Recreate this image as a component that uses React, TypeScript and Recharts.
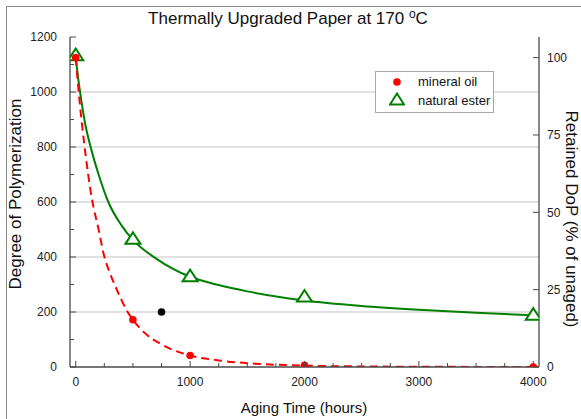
import React from "react";
import {
  ComposedChart,
  Line,
  Scatter,
  XAxis,
  YAxis,
  ReferenceLine,
  Legend,
} from "recharts";

// measured points
const agingHours = [0, 500, 1000, 2000, 4000];
const mineralOilDP = [1125, 172, 42, 6, 0];
const naturalEsterDP = [1130, 462, 326, 252, 186];
const extraHours = [750];
const extraDP = [200];

// fitted curves
const esterFitHours = [0, 20, 40, 80, 140, 200, 285, 400, 500, 700, 1000, 1250, 1500, 2000, 2500, 3000, 3500, 4000];
const esterFitDP = [1130, 1055, 995, 890, 785, 700, 600, 515, 462, 395, 328, 298, 275, 242, 222, 208, 197, 188];
const oilFitHours = [0, 25, 75, 140, 200, 245, 300, 350, 450, 500, 600, 750, 1000, 1250, 1500, 2000, 2500, 3000, 4000];
const oilFitDP = [1125, 1005, 810, 615, 500, 410, 340, 290, 203, 172, 125, 82, 42, 24, 14, 5, 2, 1, 0];

// axes
const xTicks = [0, 250, 500, 750, 1000, 1250, 1500, 1750, 2000, 2250, 2500, 2750, 3000, 3250, 3500, 3750, 4000];
const xLabelTicks = [0, 1000, 2000, 3000, 4000];
const leftTicks = [0, 100, 200, 300, 400, 500, 600, 700, 800, 900, 1000, 1100, 1200];
const leftLabelTicks = [0, 200, 400, 600, 800, 1000, 1200];
const gridLevels = [200, 400, 600, 800, 1000];
const rightTicks = [0, 25, 50, 75, 100];
// invisible anchors so the top / right axes have something to scale
const anchorHours = [0, 4000];
const anchorPct = [0, 100];

const zip = (xs: number[], ys: number[]) => xs.map((h, i) => ({ hours: h, dp: ys[i] }));

const oilPoints = zip(agingHours, mineralOilDP);
const esterPoints = zip(agingHours, naturalEsterDP);
const extraPoints = zip(extraHours, extraDP);
const esterFit = zip(esterFitHours, esterFitDP);
const oilFit = zip(oilFitHours, oilFitDP);
const anchors = zip(anchorHours, anchorPct);

const FONT = "'Liberation Sans', Arial, sans-serif";
const AXIS = "#4a4a4a";
const GREEN = "#008000";
const RED = "#ff0000";

const BottomTick = ({ x, y, payload }: any) => {
  const major = xLabelTicks.includes(payload.value);
  const base = y - 10;
  return (
    <g>
      <line x1={x} x2={x} y1={base} y2={base - (major ? 6 : 4)} stroke={AXIS} />
      {major && (
        <text x={x} y={y} dy="0.71em" textAnchor="middle" fontSize={12} fill="#222" fontFamily={FONT}>
          {payload.value}
        </text>
      )}
    </g>
  );
};

const TopTick = ({ x, y, payload }: any) => {
  const major = xLabelTicks.includes(payload.value);
  return <line x1={x} x2={x} y1={y} y2={y + (major ? 6 : 4)} stroke={AXIS} />;
};

const LeftTick = ({ x, y, payload }: any) => {
  const major = leftLabelTicks.includes(payload.value);
  const base = x + 13;
  return (
    <g>
      <line x1={base} x2={base + (major ? 6 : 4)} y1={y} y2={y} stroke={AXIS} />
      {major && (
        <text x={x} y={y} dy="0.355em" textAnchor="end" fontSize={12} fill="#222" fontFamily={FONT}>
          {payload.value}
        </text>
      )}
    </g>
  );
};

const RightTick = ({ x, y, payload }: any) => {
  const base = x - 8;
  return (
    <g>
      <line x1={base} x2={base - 6} y1={y} y2={y} stroke={AXIS} />
      <text x={x} y={y} dy="0.355em" textAnchor="start" fontSize={12} fill="#222" fontFamily={FONT}>
        {payload.value}
      </text>
    </g>
  );
};

const Triangle = ({ cx, cy }: any) => (
  <polygon
    points={`${cx},${cy - 7.7} ${cx - 7.5},${cy + 3.9} ${cx + 7.5},${cy + 3.9}`}
    fill="#fff"
    stroke={GREEN}
    strokeWidth={2}
  />
);

const LegendBox = () => (
  <div
    style={{
      border: "1px solid #a8a8a8",
      background: "#fff",
      width: 119,
      height: 42,
      boxSizing: "border-box",
      fontFamily: FONT,
      fontSize: 13,
      color: "#111",
      position: "relative",
    }}
  >
    <svg width={16} height={40} style={{ position: "absolute", left: 13, top: 0 }}>
      <circle cx={8} cy={10} r={3.8} fill={RED} />
      <polygon points="8,21.5 1,32.5 15,32.5" fill="#fff" stroke={GREEN} strokeWidth={2} />
    </svg>
    <div style={{ position: "absolute", left: 42, top: 1, lineHeight: "18px" }}>mineral oil</div>
    <div style={{ position: "absolute", left: 42, top: 20, lineHeight: "18px" }}>natural ester</div>
  </div>
);

export default function App() {
  return (
    <div
      style={{
        position: "fixed",
        left: 0,
        top: 0,
        width: 581,
        height: 419,
        overflow: "hidden",
        background: "#fff",
        fontFamily: FONT,
      }}
    >
      <div
        style={{
          position: "absolute",
          left: 6,
          top: 6,
          width: 700,
          height: 600,
          borderLeft: "1px solid #8c8c8c",
          borderTop: "1px solid #8c8c8c",
        }}
      />
      <ComposedChart
        width={581}
        height={419}
        margin={{ top: 37, right: 0, bottom: 0, left: 0 }}
        style={{ position: "absolute", left: 0, top: 0 }}
      >
        <XAxis
          xAxisId="bottom"
          type="number"
          dataKey="hours"
          domain={[-50, 4050]}
          allowDataOverflow
          ticks={xTicks}
          interval={0}
          tickSize={0}
          tickMargin={10}
          height={52}
          stroke={AXIS}
          strokeWidth={1.3}
          tick={<BottomTick />}
        />
        <XAxis
          xAxisId="top"
          orientation="top"
          type="number"
          dataKey="hours"
          domain={[-50, 4050]}
          allowDataOverflow
          ticks={xTicks}
          interval={0}
          tickSize={0}
          tickMargin={0}
          height={0}
          stroke={AXIS}
          strokeWidth={1.3}
          tick={<TopTick />}
        />
        <YAxis
          yAxisId="left"
          type="number"
          domain={[0, 1200]}
          allowDataOverflow
          ticks={leftTicks}
          interval={0}
          tickSize={0}
          tickMargin={13}
          width={70}
          stroke={AXIS}
          strokeWidth={1.3}
          tick={<LeftTick />}
        />
        <YAxis
          yAxisId="right"
          orientation="right"
          type="number"
          domain={[0, 106.67]}
          allowDataOverflow
          ticks={rightTicks}
          interval={0}
          tickSize={0}
          tickMargin={8}
          width={42}
          stroke={AXIS}
          strokeWidth={1.3}
          tick={<RightTick />}
        />
        {gridLevels.map((lvl) => (
          <ReferenceLine key={lvl} xAxisId="bottom" yAxisId="left" y={lvl} stroke="#c4c4c4" strokeWidth={1.2} />
        ))}
        <Scatter
          xAxisId="top"
          yAxisId="right"
          data={anchors}
          dataKey="dp"
          legendType="none"
          shape={() => <g />}
          isAnimationActive={false}
        />
        <Line
          xAxisId="bottom"
          yAxisId="left"
          data={esterFit}
          dataKey="dp"
          type="monotone"
          stroke={GREEN}
          strokeWidth={2}
          dot={false}
          isAnimationActive={false}
        />
        <Line
          xAxisId="bottom"
          yAxisId="left"
          data={oilFit}
          dataKey="dp"
          type="monotone"
          stroke={RED}
          strokeWidth={2}
          strokeDasharray="8 5"
          dot={false}
          isAnimationActive={false}
        />
        <Scatter
          xAxisId="bottom"
          yAxisId="left"
          data={esterPoints}
          dataKey="dp"
          shape={<Triangle />}
          isAnimationActive={false}
        />
        <Scatter
          xAxisId="bottom"
          yAxisId="left"
          data={oilPoints}
          dataKey="dp"
          fill={RED}
          shape={(p: any) => <circle cx={p.cx} cy={p.cy} r={3.8} fill={RED} />}
          isAnimationActive={false}
        />
        <Scatter
          xAxisId="bottom"
          yAxisId="left"
          data={extraPoints}
          dataKey="dp"
          fill="#000"
          shape={(p: any) => <circle cx={p.cx} cy={p.cy} r={3.8} fill="#000" />}
          isAnimationActive={false}
        />
        <Legend
          layout="vertical"
          align="center"
          verticalAlign="middle"
          content={<LegendBox />}
          wrapperStyle={{ position: "absolute", left: 375, top: 71, width: 119, height: 42 }}
        />
      </ComposedChart>
      <div
        style={{
          position: "absolute",
          left: 288,
          top: 18,
          transform: "translate(-50%, -50%)",
          whiteSpace: "nowrap",
          fontSize: 17,
          color: "#111",
        }}
      >
        Thermally Upgraded Paper at 170 <sup style={{ fontSize: 12, verticalAlign: "6px" }}>o</sup>C
      </div>
      <div
        style={{
          position: "absolute",
          left: 304,
          top: 407,
          transform: "translate(-50%, -50%)",
          whiteSpace: "nowrap",
          fontSize: 15,
          color: "#111",
        }}
      >
        Aging Time (hours)
      </div>
      <div
        style={{
          position: "absolute",
          left: 16,
          top: 194,
          transform: "translate(-50%, -50%) rotate(-90deg)",
          whiteSpace: "nowrap",
          fontSize: 17,
          lineHeight: "18px",
          color: "#111",
        }}
      >
        Degree of Polymerization
      </div>
      <div
        style={{
          position: "absolute",
          left: 571,
          top: 219,
          transform: "translate(-50%, -50%) rotate(90deg)",
          whiteSpace: "nowrap",
          fontSize: 17,
          lineHeight: "18px",
          color: "#111",
        }}
      >
        Retained DoP (% of unaged)
      </div>
    </div>
  );
}
